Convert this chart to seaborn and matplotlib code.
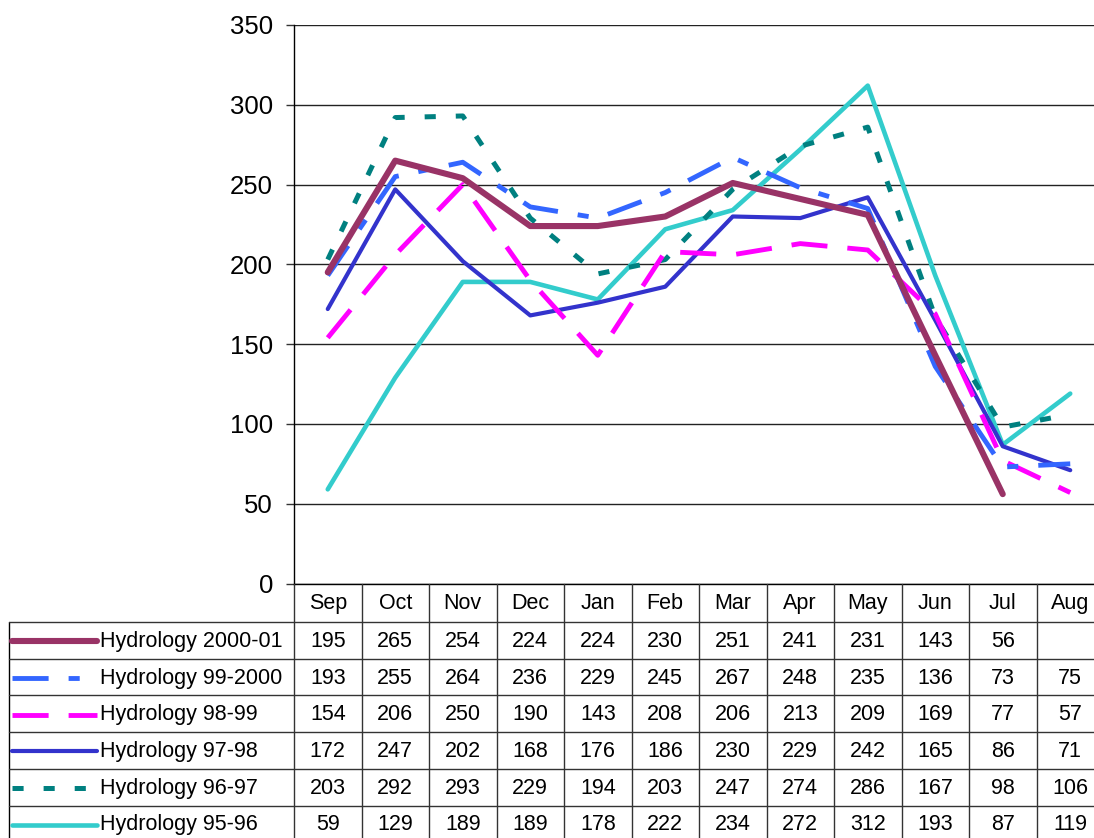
import numpy as np
import pandas as pd
import matplotlib
matplotlib.use("Agg")
import matplotlib.pyplot as plt
import seaborn as sns

months = ["Sep", "Oct", "Nov", "Dec", "Jan", "Feb", "Mar", "Apr", "May", "Jun", "Jul", "Aug"]
series_names = ["Hydrology 2000-01", "Hydrology 99-2000", "Hydrology 98-99",
                "Hydrology 97-98", "Hydrology 96-97", "Hydrology 95-96"]
h2000_01 = [195, 265, 254, 224, 224, 230, 251, 241, 231, 143, 56, np.nan]
h99_2000 = [193, 255, 264, 236, 229, 245, 267, 248, 235, 136, 73, 75]
h98_99 = [154, 206, 250, 190, 143, 208, 206, 213, 209, 169, 77, 57]
h97_98 = [172, 247, 202, 168, 176, 186, 230, 229, 242, 165, 86, 71]
h96_97 = [203, 292, 293, 229, 194, 203, 247, 274, 286, 167, 98, 106]
h95_96 = [59, 129, 189, 189, 178, 222, 234, 272, 312, 193, 87, 119]
yticks = [0, 50, 100, 150, 200, 250, 300, 350]

values = [h2000_01, h99_2000, h98_99, h97_98, h96_97, h95_96]
colors = ["#993366", "#3366FF", "#FF00FF", "#3333CC", "#008080", "#33CCCC"]
widths = [4.4, 3.5, 3.5, 3.0, 3.6, 3.3]
styles = ["-", (0, (26, 14.4, 8, 14.4)), (0, (26, 14.4)), "-", (0, (8, 14.4)), "-"]

sns.set_style("white")
plt.rcParams["font.family"] = ["Liberation Sans", "DejaVu Sans"]
plt.rcParams["lines.scale_dashes"] = False
plt.rcParams["text.color"] = "black"
plt.rcParams["ytick.color"] = "black"
plt.rcParams["xtick.color"] = "black"

W, H = 1094, 838
fig = plt.figure(figsize=(W / 100, H / 100), dpi=100)
ax_left, ax_right, ax_top, ax_bot = 294, 1104, 25, 583.5
ax = fig.add_axes([ax_left / W, (H - ax_bot) / H, (ax_right - ax_left) / W, (ax_bot - ax_top) / H])

x = np.arange(len(months))
for i in reversed(range(len(values))):
    df = pd.DataFrame({"x": x, "y": values[i]}).dropna()
    sns.lineplot(data=df, x="x", y="y", ax=ax, color=colors[i], linewidth=widths[i],
                 linestyle=styles[i], solid_capstyle="round", dash_capstyle="butt",
                 zorder=3 + (len(values) - i))

ax.set_xlim(-0.5, len(months) - 0.5)
ax.set_ylim(0, 350)
ax.set_yticks(yticks)
ax.set_yticklabels([str(t) for t in yticks], fontsize=18.5, color="black")
ax.set_xticks([])
ax.set_xlabel("")
ax.set_ylabel("")
ax.tick_params(axis="y", length=6, width=1, color="#333333", pad=9, left=True)
for yt in yticks:
    ax.axhline(yt, color="#222222", lw=1.0, zorder=1)
for s in ["top", "right"]:
    ax.spines[s].set_visible(False)
ax.spines["left"].set_color("black")
ax.spines["left"].set_linewidth(1.0)
ax.spines["bottom"].set_color("black")
ax.spines["bottom"].set_linewidth(1.0)

# data table overlay in pixel coordinates
tab = fig.add_axes([0, 0, 1, 1], zorder=5)
tab.set_xlim(0, W)
tab.set_ylim(H, 0)
tab.axis("off")
tab.patch.set_alpha(0)

fig.canvas.draw()
def col_px(v):
    return ax.transData.transform((v, 0))[0]
col_edges = [col_px(v - 0.5) for v in range(len(months) + 1)]
col_centers = [col_px(v) for v in range(len(months))]

header_top, header_bot = ax_bot, 622.0
row_h = 36.7
n_rows = len(series_names)
row_edges = [header_bot + row_h * k for k in range(n_rows + 1)]
table_left = 8.5
lc = "#333333"

for e in col_edges:
    tab.plot([e, e], [header_top, H + 10], color=lc, lw=1.0)
tab.plot([table_left, table_left], [header_bot, H + 10], color="black", lw=1.0)
for r in row_edges:
    tab.plot([table_left, W + 20], [r, r], color=lc, lw=1.0)

for j, m in enumerate(months):
    tab.text(col_centers[j], (header_top + header_bot) / 2 + 1, m, ha="center", va="center",
             fontsize=15.5, color="black")

for i, name in enumerate(series_names):
    yc = (row_edges[i] + row_edges[i + 1]) / 2 + 1
    tab.plot([12, 97], [yc, yc], color=colors[i], lw=widths[i], linestyle=styles[i],
             solid_capstyle="round", dash_capstyle="butt")
    tab.text(100, yc, name, ha="left", va="center", fontsize=15.5, color="black")
    for j, v in enumerate(values[i]):
        if not np.isnan(v):
            tab.text(col_centers[j], yc, f"{int(v)}", ha="center", va="center",
                     fontsize=15.5, color="black")

fig.savefig("out.png", dpi=100)
